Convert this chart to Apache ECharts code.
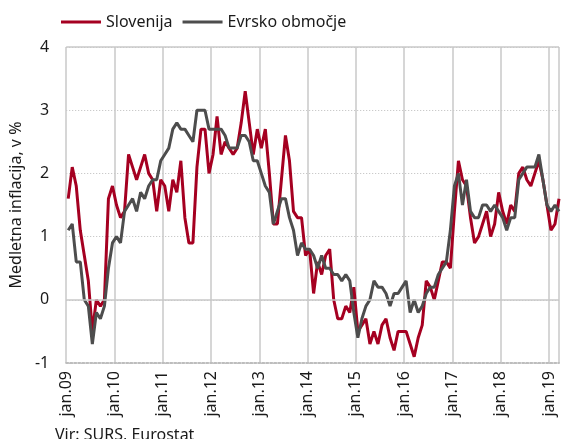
<!DOCTYPE html>
<html>
<head>
<meta charset="utf-8">
<script src="https://cdn.jsdelivr.net/npm/echarts@6/dist/echarts.min.js"></script>
<style>
  html, body { margin: 0; padding: 0; background: #fff; }
  #chart { width: 561px; height: 439px; }
</style>
</head>
<body>
<div id="chart"></div>
<script>
// mesečni podatki jan.09 – mar.19, medletna rast v %
const slovenija = [
  1.6, 2.1, 1.8, 1.1, 0.7, 0.3, -0.5, 0.0, -0.1, 0.0, 1.6, 1.8,
  1.5, 1.3, 1.4, 2.3, 2.1, 1.9, 2.1, 2.3, 2.0, 1.9, 1.4, 1.9,
  1.8, 1.4, 1.9, 1.7, 2.2, 1.3, 0.9, 0.9, 2.1, 2.7, 2.7, 2.0,
  2.3, 2.9, 2.3, 2.5, 2.4, 2.3, 2.4, 2.8, 3.3, 2.8, 2.3, 2.7,
  2.4, 2.7, 2.0, 1.2, 1.2, 1.9, 2.6, 2.2, 1.4, 1.3, 1.3, 0.7,
  0.8, 0.1, 0.6, 0.4, 0.7, 0.8, 0.0, -0.3, -0.3, -0.1, -0.2, 0.2,
  -0.5, -0.4, -0.3, -0.7, -0.5, -0.7, -0.4, -0.3, -0.6, -0.8, -0.5, -0.5,
  -0.5, -0.7, -0.9, -0.6, -0.4, 0.3, 0.2, 0.0, 0.3, 0.6, 0.6, 0.5,
  1.4, 2.2, 1.9, 1.8, 1.3, 0.9, 1.0, 1.2, 1.4, 1.0, 1.2, 1.7,
  1.4, 1.2, 1.5, 1.4, 2.0, 2.1, 1.9, 1.8, 2.0, 2.2, 1.9, 1.5,
  1.1, 1.2, 1.6
];
const evroObmocje = [
  1.1, 1.2, 0.6, 0.6, 0.0, -0.1, -0.7, -0.2, -0.3, -0.1, 0.5, 0.9,
  1.0, 0.9, 1.4, 1.5, 1.6, 1.4, 1.7, 1.6, 1.8, 1.9, 1.9, 2.2,
  2.3, 2.4, 2.7, 2.8, 2.7, 2.7, 2.6, 2.5, 3.0, 3.0, 3.0, 2.7,
  2.7, 2.7, 2.7, 2.6, 2.4, 2.4, 2.4, 2.6, 2.6, 2.5, 2.2, 2.2,
  2.0, 1.8, 1.7, 1.2, 1.4, 1.6, 1.6, 1.3, 1.1, 0.7, 0.9, 0.8,
  0.8, 0.7, 0.5, 0.7, 0.5, 0.5, 0.4, 0.4, 0.3, 0.4, 0.3, -0.2,
  -0.6, -0.3, -0.1, 0.0, 0.3, 0.2, 0.2, 0.1, -0.1, 0.1, 0.1, 0.2,
  0.3, -0.2, 0.0, -0.2, -0.1, 0.1, 0.2, 0.2, 0.4, 0.5, 0.6, 1.1,
  1.8, 2.0, 1.5, 1.9, 1.4, 1.3, 1.3, 1.5, 1.5, 1.4, 1.5, 1.4,
  1.3, 1.1, 1.3, 1.3, 1.9, 2.0, 2.1, 2.1, 2.1, 2.3, 1.9, 1.5,
  1.4, 1.5, 1.4
];
const years = ['09', '10', '11', '12', '13', '14', '15', '16', '17', '18', '19'];
const yTicks = [-1, 0, 1, 2, 3, 4];

const FONT = 'Noto Sans';
const RED = '#a50021', GREY = '#4d4d4d', GRID = '#c8c8c8';
// točka meseca i leži na sredini meseca (i + 0.5), mreža na začetku januarja
const pts = arr => arr.map((v, i) => [i + 0.5, v]);

const chart = echarts.init(document.getElementById('chart'), null, { renderer: 'canvas' });
chart.setOption({
  animation: false,
  textStyle: { fontFamily: FONT },
  legend: {
    left: 56, top: 9, itemWidth: 40, itemHeight: 3, itemGap: 10, icon: 'rect',
    textStyle: { fontFamily: FONT, fontSize: 16, color: '#1a1a1a' },
    data: ['Slovenija', 'Evrsko območje']
  },
  grid: { left: 66, right: 2, top: 47, bottom: 76 },
  xAxis: {
    type: 'value', min: 0, max: slovenija.length - 0.5, interval: 12,
    axisLine: { show: true, onZero: false, lineStyle: { color: '#bdbdbd', width: 2, type: 'dotted' } },
    axisTick: { show: false },
    splitLine: { show: true, lineStyle: { color: GRID, width: 1.5 } },
    axisLabel: {
      rotate: 90, margin: 8, fontSize: 16, color: '#1a1a1a', fontFamily: FONT,
      formatter: v => (v % 12 === 0 && years[v / 12]) ? 'jan.' + years[v / 12] : ''
    }
  },
  yAxis: {
    type: 'value', min: yTicks[0], max: yTicks[yTicks.length - 1], interval: 1,
    name: 'Medletna inflacija, v %', nameLocation: 'middle', nameGap: 42,
    nameTextStyle: { fontSize: 16, color: '#1a1a1a', fontFamily: FONT },
    axisLine: { show: false }, axisTick: { show: false },
    axisLabel: { fontSize: 16, color: '#1a1a1a', margin: 17, fontFamily: FONT },
    splitLine: { show: true, lineStyle: { color: '#bdbdbd', width: 1, type: [1, 2] } }
  },
  graphic: [{
    type: 'text', left: 55, top: 427,
    style: { text: 'Vir: SURS, Eurostat', font: '16px "Noto Sans"', fill: '#1a1a1a' }
  }],
  series: [
    {
      name: 'Slovenija', type: 'line', data: pts(slovenija), symbol: 'none',
      lineStyle: { color: RED, width: 3 }, itemStyle: { color: RED },
      markLine: {
        silent: true, symbol: 'none', label: { show: false },
        lineStyle: { color: GRID, width: 1.5, type: 'solid' },
        data: [{ yAxis: 0 }, { yAxis: 4 }]
      },
      z: 2
    },
    {
      name: 'Evrsko območje', type: 'line', data: pts(evroObmocje), symbol: 'none',
      lineStyle: { color: GREY, width: 3 }, itemStyle: { color: GREY }, z: 3
    }
  ]
});
</script>
</body>
</html>
